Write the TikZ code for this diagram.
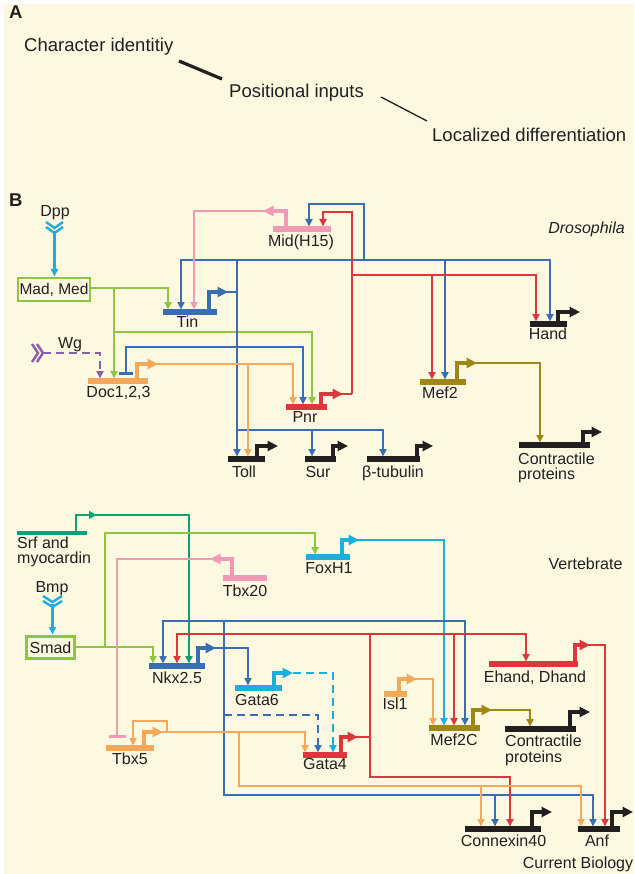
\documentclass[tikz,border=0pt]{standalone}
\usepackage{fontspec}
\setmainfont{Liberation Sans}
\usetikzlibrary{arrows.meta}
\definecolor{bgc}{HTML}{FDF8E0}
\definecolor{ink}{HTML}{231F20}
\definecolor{cBlue}{HTML}{3A6EB4}
\definecolor{cRed}{HTML}{DD373E}
\definecolor{cPink}{HTML}{F09AB8}
\definecolor{cLime}{HTML}{8DC63F}
\definecolor{cOrange}{HTML}{F6A85A}
\definecolor{cOlive}{HTML}{A08714}
\definecolor{cCyan}{HTML}{1BAEDE}
\definecolor{cTeal}{HTML}{0FA078}
\definecolor{cPurple}{HTML}{8C5FAA}
\begin{document}
\begin{tikzpicture}[x=1pt,y=-1pt,
  lab/.style={font=\fontsize{16}{18}\selectfont, inner sep=0pt, anchor=base, text=ink},
  labw/.style={lab, anchor=base west},
  big/.style={font=\fontsize{18.5}{22}\selectfont, inner sep=0pt, anchor=base west, text=ink},
  gbar/.style={line width=5.5pt},
  wire/.style={line width=2.8pt},
  conn/.style={line width=2.8pt, -{Triangle[length=7.5pt,width=7pt]}},
  thinconn/.style={line width=2.3pt, -{Triangle[length=7.5pt,width=7pt]}},
  promo/.style={line width=4.5pt, -{Triangle[length=10.5pt,width=10pt]}},
  promosm/.style={line width=2.8pt, -{Triangle[length=8pt,width=7.5pt]}},
  tee/.style={line width=2.8pt, -{Bar[width=17pt,line width=3pt]}},
  teestart/.style={line width=2.8pt, {Bar[width=14pt,line width=3pt]}-{Triangle[length=7.5pt,width=7pt]}},
  rec/.style={line width=2.4pt},
  dsh/.style={dash pattern=on 8pt off 5pt},
  gbox/.style={draw, line width=2.8pt, inner sep=0pt, font=\fontsize{15.5}{18}\selectfont, text=ink},
]
\useasboundingbox (0,0) rectangle (634,874);
\fill[white] (0,0) rectangle (634,874);
\fill[bgc] (4,4) rectangle (634,874);

% ---------------- Panel A ----------------
\node[big, font=\fontsize{18.5}{22}\selectfont\bfseries] (labA) at (9,19) {A};
\node[big] (charid) at (24,51.5) {Character identitiy};
\node[big] (posin) at (229,97.5) {Positional inputs};
\node[big] (locdiff) at (432,141.5) {Localized differentiation};
\coordinate (a1) at (179,61); \coordinate (a2) at (222,79);
\coordinate (b1) at (381,97); \coordinate (b2) at (427,121);
\draw[ink, line width=3.2pt] (a1) -- (a2);
\draw[ink, line width=1.3pt] (b1) -- (b2);

% ---------------- Panel B : Drosophila ----------------
\node[big, font=\fontsize{18.5}{22}\selectfont\bfseries] (labB) at (9,207) {B};
\node[lab, font=\fontsize{16}{18}\selectfont\itshape] (droso) at (586.5,234) {Drosophila};

% Dpp
\node[lab] (dpp) at (55,217) {Dpp};
\draw[rec, cCyan] (46,222)--(54.5,228)--(63,222) (46,227)--(54.5,233)--(63,227);
\draw[conn, cCyan] (54.5,231) -- (54.5,276.5);
\node[gbox, draw=cLime, minimum width=72pt, minimum height=23pt] (mad) at (54,289.5) {Mad, Med};

% green from Mad,Med
\draw[conn, cLime] (90,288) -- (168,288) -- (168,309.5);
\draw[conn, cLime] (114,288) -- (114,378.5);
\draw[conn, cLime] (114,332) -- (312,332) -- (312,404.5);

% Wg
\node[lab] (wg) at (70,348) {Wg};
\draw[rec, cPurple] (32,344)--(38,353)--(32,362) (37,344)--(43,353)--(37,362);
\draw[conn, cPurple, dsh] (43,353) -- (100,353) -- (100,378.5);

% blue network (Tin)
\draw[conn, cBlue] (364,260) -- (181,260) -- (181,309.5);
\draw[conn, cBlue] (364,260) -- (550,260) -- (550,321.5);
\draw[conn, cBlue] (364,260) -- (364,204) -- (309,204) -- (309,226.5);
\draw[conn, cBlue] (445,260) -- (445,379.5);
\draw[conn, cBlue] (237,260) -- (237,456.5);
\draw[conn, cBlue] (237,430) -- (312,430) -- (312,456.5);
\draw[conn, cBlue] (312,430) -- (383,430) -- (383,456.5);
\draw[teestart, cBlue] (126,375) -- (126,347) -- (303,347) -- (303,404.5);
\draw[wire, cBlue] (209,292) -- (237,292);

% pink (Mid)
\draw[conn, cPink] (265,211) -- (194,211) -- (194,309.5);

% red (Pnr)
\draw[wire, cRed] (321,394) -- (352,394);
\draw[conn, cRed] (352,394) -- (352,212) -- (323,212) -- (323,226.5);
\draw[conn, cRed] (352,275) -- (536,275) -- (536,321.5);
\draw[conn, cRed] (432,275) -- (432,379.5);

% orange (Doc)
\draw[thinconn, cOrange] (137,364) -- (293,364) -- (293,404.5);
\draw[thinconn, cOrange] (248,364) -- (248,456.5);

% olive (Mef2)
\draw[conn, cOlive] (457,363) -- (540,363) -- (540,442.5);

% genes
\draw[gbar, cBlue] (163,312) -- (217,312);
\draw[promo, cBlue] (209,312) -- (209,292) -- (228,292);
\node[lab] (tin) at (187.5,327) {Tin};

\draw[gbar, cPink] (273,229) -- (331,229);
\draw[promo, cPink] (286,229) -- (286,211) -- (263,211);
\node[lab] (mid) at (301,247) {Mid(H15)};

\draw[gbar, cRed] (286,407) -- (327,407);
\draw[promo, cRed] (321,407) -- (321,394) -- (343,394);
\node[lab] (pnr) at (305,422) {Pnr};

\draw[gbar, cOrange] (88,381) -- (148,381);
\draw[promo, cOrange] (137,381) -- (137,364) -- (158,364);
\node[lab] (doc) at (118.5,397) {Doc1,2,3};

\draw[gbar, ink] (530,324) -- (567,324);
\draw[promo, ink] (558,324) -- (558,312) -- (580,312);
\node[lab] (hand) at (548,339) {Hand};

\draw[gbar, cOlive] (420,382) -- (466,382);
\draw[promo, cOlive] (457,382) -- (457,363) -- (477,363);
\node[lab] (mef2) at (440,398) {Mef2};

\draw[gbar, ink] (519,445) -- (590,445);
\draw[promo, ink] (583,445) -- (583,432) -- (602,432);
\node[labw] (cpd1) at (518,464) {Contractile};
\node[labw] (cpd2) at (518,479) {proteins};

\draw[gbar, ink] (228,459) -- (265,459);
\draw[promo, ink] (257,459) -- (257,446) -- (278,446);
\node[lab] (toll) at (244,477) {Toll};

\draw[gbar, ink] (305,459) -- (336,459);
\draw[promo, ink] (333,459) -- (333,446) -- (348,446);
\node[lab] (sur) at (318,477) {Sur};

\draw[gbar, ink] (367,459) -- (420,459);
\draw[promo, ink] (417,459) -- (417,446) -- (433,446);
\node[lab] (btub) at (393,477) {β-tubulin};

% ---------------- Panel B : Vertebrate ----------------
\node[lab] (vert) at (585.5,569) {Vertebrate};

% Srf and myocardin
\draw[conn, cTeal] (76,515) -- (189,515) -- (189,663.5);
\draw[cTeal, line width=3.2pt] (17,533) -- (87,533);
\draw[promosm, cTeal] (76,533) -- (76,515) -- (97,515);
\node[labw] (srf1) at (17,548) {Srf and};
\node[labw] (srf2) at (17,563) {myocardin};

% Bmp / Smad
\node[lab] (bmp) at (52,592) {Bmp};
\draw[rec, cCyan] (43,596)--(52.5,602)--(62,596) (43,601)--(52.5,607)--(62,601);
\draw[conn, cCyan] (52.5,604) -- (52.5,634.5);
\node[gbox, draw=cLime, minimum width=48pt, minimum height=22pt, font=\fontsize{16}{18}\selectfont] (smad) at (50.5,647.5) {Smad};
\draw[conn, cLime] (75,647) -- (153,647) -- (153,663.5);
\draw[conn, cLime] (105,647) -- (105,533) -- (315,533) -- (315,554.5);

% FoxH1 output
\draw[thinconn, cCyan] (342,540) -- (444,540) -- (444,725.5);

% Tbx20 output
\draw[tee, cPink] (212,559) -- (117,559) -- (117,738);

% blue Nkx network
\draw[conn, cBlue] (224,621) -- (163,621) -- (163,663.5);
\draw[conn, cBlue] (224,621) -- (465,621) -- (465,725.5);
\draw[conn, cBlue] (224,621) -- (224,795) -- (593,795) -- (593,826.5);
\draw[conn, cBlue] (495,795) -- (495,826.5);
\draw[conn, cBlue, dsh] (224,715) -- (318,715) -- (318,752.5);
\draw[conn, cBlue] (198,648) -- (248,648) -- (248,685.5);

% Gata6 output
\draw[thinconn, cCyan, dsh] (293,673) -- (333,673) -- (333,752.5);

% red Gata4 network
\draw[wire, cRed] (341,737) -- (370,737);
\draw[conn, cRed] (370,634) -- (177,634) -- (177,663.5);
\draw[conn, cRed] (370,634) -- (526,634) -- (526,661.5);
\draw[conn, cRed] (454,634) -- (454,725.5);
\draw[conn, cRed] (370,634) -- (370,777) -- (510,777) -- (510,826.5);
\draw[conn, cRed] (575,645) -- (605,645) -- (605,826.5);

% orange Tbx5 network
\draw[thinconn, cOrange] (144,732) -- (167,732) -- (167,721) -- (133,721) -- (133,745.5);
\draw[thinconn, cOrange] (144,732) -- (305,732) -- (305,752.5);
\draw[thinconn, cOrange] (239,732) -- (239,786) -- (581,786) -- (581,826.5);
\draw[thinconn, cOrange] (481,786) -- (481,826.5);
\draw[thinconn, cOrange] (399,679) -- (433,679) -- (433,725.5);

% olive Mef2C
\draw[conn, cOlive] (473,710) -- (530,710) -- (530,726.5);

% genes
\draw[gbar, cCyan] (306,557) -- (350,557);
\draw[promo, cCyan] (342,557) -- (342,540) -- (359,540);
\node[lab] (foxh1) at (329,573) {FoxH1};

\draw[gbar, cPink] (223,578) -- (267,578);
\draw[promo, cPink] (232,578) -- (232,559) -- (210,559);
\node[lab] (tbx20) at (245,596) {Tbx20};

\draw[gbar, cBlue] (149,666) -- (205,666);
\draw[promo, cBlue] (198,666) -- (198,648) -- (216,648);
\node[lab] (nkx) at (177,683) {Nkx2.5};

\draw[gbar, cCyan] (235,688) -- (282,688);
\draw[promo, cCyan] (274,688) -- (274,673) -- (293,673);
\node[lab] (gata6) at (257,705) {Gata6};

\draw[gbar, cRed] (303,755) -- (347,755);
\draw[promo, cRed] (341,755) -- (341,737) -- (358,737);
\node[lab] (gata4) at (325,769) {Gata4};

\draw[gbar, cOrange] (106,748) -- (154,748);
\draw[promo, cOrange] (144,748) -- (144,732) -- (163,732);
\node[lab] (tbx5) at (130,764) {Tbx5};

\draw[gbar, cOrange] (384,694) -- (407,694);
\draw[promo, cOrange] (399,694) -- (399,679) -- (417,679);
\node[lab] (isl1) at (395,709) {Isl1};

\draw[gbar, cOlive] (429,728) -- (480,728);
\draw[promo, cOlive] (473,728) -- (473,710) -- (492,710);
\node[lab] (mef2c) at (454,745) {Mef2C};

\draw[gbar, cRed] (489,664) -- (578,664);
\draw[promo, cRed] (575,664) -- (575,645) -- (590,645);
\node[lab] (ehand) at (535,682) {Ehand, Dhand};

\draw[gbar, ink] (505,729) -- (576,729);
\draw[promo, ink] (570,729) -- (570,712) -- (590,712);
\node[labw] (cpv1) at (505,746) {Contractile};
\node[labw] (cpv2) at (505,762) {proteins};

\draw[gbar, ink] (465,829) -- (541,829);
\draw[promo, ink] (532,829) -- (532,812) -- (552,812);
\node[lab] (cx40) at (503.5,846) {Connexin40};

\draw[gbar, ink] (578,829) -- (620,829);
\draw[promo, ink] (612,829) -- (612,812) -- (633,812);
\node[lab] (anf) at (597,846) {Anf};

\node[lab] (cb) at (578,868) {Current Biology};
\end{tikzpicture}
\end{document}
